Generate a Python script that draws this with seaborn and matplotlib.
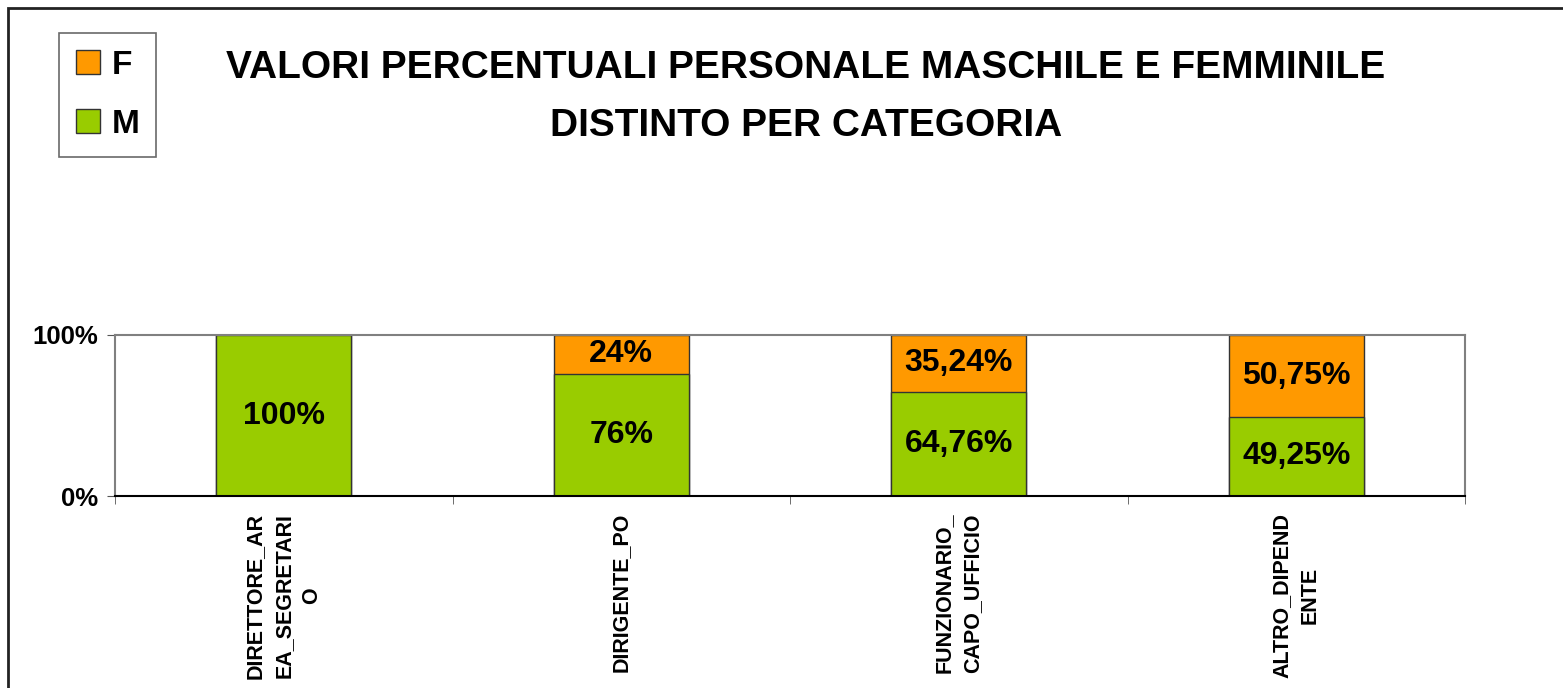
import matplotlib
matplotlib.use('Agg')
import matplotlib.pyplot as plt
import seaborn as sns
import pandas as pd
from matplotlib.patches import Rectangle

categories = ['DIRETTORE_AR\nEA_SEGRETARI\nO', 'DIRIGENTE_PO', 'FUNZIONARIO_\nCAPO_UFFICIO', 'ALTRO_DIPEND\nENTE']
m_vals = [100, 76, 64.76, 49.25]
f_vals = [0, 24, 35.24, 50.75]
m_labels = ['100%', '76%', '64,76%', '49,25%']
f_labels = ['', '24%', '35,24%', '50,75%']

df = pd.DataFrame({'cat': categories, 'M': m_vals, 'F': f_vals})
df['tot'] = df['M'] + df['F']

sns.set_style('white')
plt.rcParams['font.family'] = ['Liberation Sans', 'DejaVu Sans']
plt.rcParams['font.weight'] = 'bold'
plt.rcParams['text.color'] = 'black'
plt.rcParams['xtick.color'] = 'black'
plt.rcParams['ytick.color'] = 'black'

fig = plt.figure(figsize=(15.63, 6.88), dpi=100)
ax = fig.add_axes([115/1563, 1-496/688, 1350/1563, 161/688])

orange, green = '#FF9900', '#99CC00'
sns.barplot(data=df, x='cat', y='tot', color=orange, width=0.4, saturation=1,
            edgecolor='#333333', linewidth=1, label='F', ax=ax)
sns.barplot(data=df, x='cat', y='M', color=green, width=0.4, saturation=1,
            edgecolor='#333333', linewidth=1, label='M', ax=ax)
handles, labels = ax.get_legend_handles_labels()
if ax.get_legend() is not None:
    ax.get_legend().remove()

# value labels
for i in range(len(categories)):
    ax.text(i, m_vals[i] / 2, m_labels[i], ha='center', va='center', fontsize=23, fontweight='bold')
    if f_vals[i] > 0:
        ax.text(i, m_vals[i] + f_vals[i] / 2, f_labels[i], ha='center', va='center', fontsize=23, fontweight='bold')

ax.set_xlim(-0.5, len(categories) - 0.5)
ax.set_ylim(0, 100)
ax.set_yticks([0, 100])
ax.set_yticklabels(['0%', '100%'], fontsize=18.5, fontweight='bold')
ax.set_xlabel('')
ax.set_ylabel('')
ax.set_xticks(range(len(categories)))
ax.set_xticklabels(categories, rotation=90, fontsize=15.5, fontweight='bold', va='top', ha='center',
                   multialignment='center', linespacing=1.45)
ax.tick_params(axis='x', which='major', length=0, pad=12)
ax.set_xticks([i - 0.5 for i in range(len(categories) + 1)], minor=True)
ax.tick_params(axis='x', which='minor', length=6, direction='out', color='#555555', bottom=True)
ax.tick_params(axis='y', length=6, direction='out', color='#555555', left=True, pad=6)

for s in ['top', 'right', 'left']:
    ax.spines[s].set_color('#808080')
    ax.spines[s].set_linewidth(1.5)
ax.spines['bottom'].set_color('black')
ax.spines['bottom'].set_linewidth(1.5)

leg = fig.legend(handles, labels, loc='upper left', bbox_to_anchor=(59/1563, 1-33/688),
                 fontsize=24, frameon=True, fancybox=False, edgecolor='#444444',
                 handlelength=0.72, handleheight=0.72, handletextpad=0.35, labelspacing=0.85,
                 borderpad=0.5, borderaxespad=0)
for t in leg.get_texts():
    t.set_fontweight('bold')
    t.set_color('black')
leg.get_frame().set_linewidth(1.2)

fig.text(806/1563, 1-97/688, 'VALORI PERCENTUALI PERSONALE MASCHILE E FEMMINILE\nDISTINTO PER CATEGORIA',
         ha='center', va='center', fontsize=28, fontweight='bold', linespacing=1.75, color='black')

# outer frame of the chart area
fig.patches.append(Rectangle((8/1563, -0.2), 1.5, 1.2 - 8/688, transform=fig.transFigure,
                             fill=False, edgecolor='#222222', linewidth=2))

fig.savefig('out.png', dpi=100)
